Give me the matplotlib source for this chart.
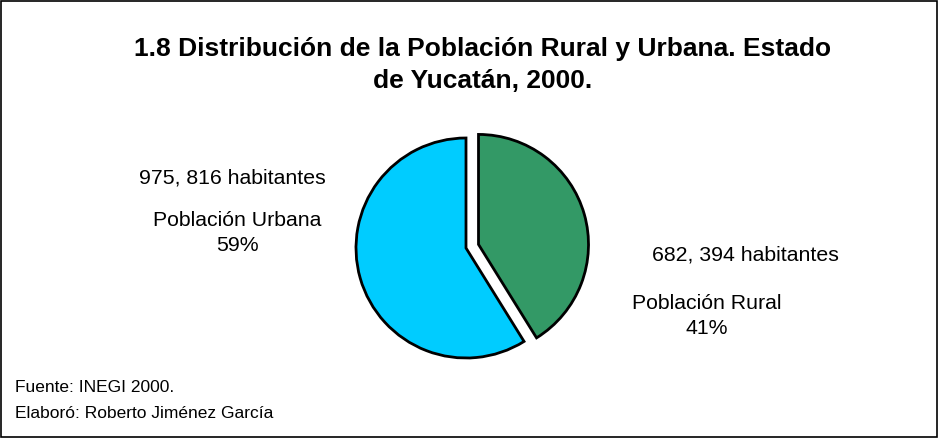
import matplotlib.pyplot as plt
from matplotlib.patches import Rectangle

plt.rcParams['font.family'] = ['Liberation Sans', 'DejaVu Sans']

# datos
categorias = ['Población Rural', 'Población Urbana']
habitantes = [682394, 975816]
hab_texto = ['682, 394 habitantes', '975, 816 habitantes']
colores = ['#339966', '#00CCFF']

total = sum(habitantes)
porcentajes = [round(100 * h / total) for h in habitantes]

fig = plt.figure(figsize=(9.39, 4.38), dpi=100)

# marco
fig.patches.append(Rectangle((0.001, 0.002), 0.997, 0.995, transform=fig.transFigure,
                             fill=False, edgecolor='black', linewidth=1.2))

fig.text(483 / 939, 1 - 65 / 438, '1.8 Distribución de la Población Rural y Urbana. Estado\nde Yucatán, 2000.',
         ha='center', va='center', fontsize=19, fontweight='bold', linespacing=1.42)

ax = fig.add_axes([(466 - 150) / 939, (190 - 150) / 438, 300 / 939, 300 / 438])
ax.pie(habitantes, colors=colores, startangle=90, counterclock=False, radius=1.1,
       explode=[0.13, 0], wedgeprops=dict(edgecolor='black', linewidth=2))
ax.set_xlim(-1.5, 1.5)
ax.set_ylim(-1.5, 1.5)
ax.set_aspect('equal')
ax.axis('off')

# etiquetas
fs = 15.3
fig.text(745 / 939, 1 - 255 / 438, hab_texto[0], ha='center', va='center', fontsize=fs)
fig.text(707 / 939, 1 - 316 / 438, '%s\n%d%%' % (categorias[0], porcentajes[0]),
         ha='center', va='center', fontsize=fs, linespacing=1.4)
fig.text(232 / 939, 1 - 178 / 438, hab_texto[1], ha='center', va='center', fontsize=fs)
fig.text(237 / 939, 1 - 233 / 438, '%s\n%d%%' % (categorias[1], porcentajes[1]),
         ha='center', va='center', fontsize=fs, linespacing=1.35)

fig.text(15 / 939, 1 - 388 / 438, 'Fuente: INEGI 2000.', ha='left', va='center', fontsize=12.5)
fig.text(15 / 939, 1 - 414 / 438, 'Elaboró: Roberto Jiménez García', ha='left', va='center', fontsize=12.5)

fig.savefig('out.png', dpi=100)
